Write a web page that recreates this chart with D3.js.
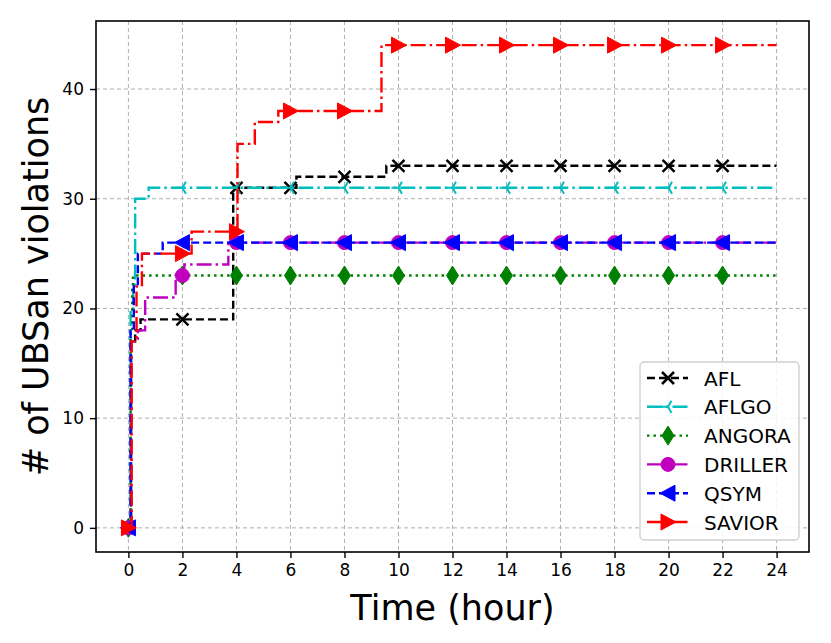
<!DOCTYPE html>
<html>
<head>
<meta charset="utf-8">
<script src="https://cdn.jsdelivr.net/npm/d3@7"></script>
<style>
  body { margin: 0; background: #fff; }
  text { font-family: "DejaVu Sans", sans-serif; fill: #000; }
</style>
</head>
<body>
<div id="chart"></div>
<script>
// step data (hours -> count)
const aflT = [0, 0.1, 0.25, 0.45, 3.88, 6.22, 9.55, 24];
const aflV = [0, 17, 18, 19, 31, 32, 33, 33];
const aflgoT = [0, 0.08, 0.18, 0.25, 0.75, 24];
const aflgoV = [0, 20, 22, 30, 31, 31];
const angoraT = [0, 0.08, 0.14, 0.17, 24];
const angoraV = [0, 18, 22, 23, 23];
const drillerT = [0, 0.1, 0.35, 0.62, 1.75, 2.07, 3.7, 24];
const drillerV = [0, 17, 18, 21, 23, 24, 26, 26];
const qsymT = [0, 0.08, 0.2, 0.35, 1.27, 24];
const qsymV = [0, 18, 22, 25, 26, 26];
const saviorT = [0, 0.12, 0.3, 0.5, 2.34, 4.04, 4.68, 5.55, 9.37, 24];
const saviorV = [0, 17, 22, 25, 27, 35, 37, 38, 44, 44];

const markerTimes = [0, 2, 4, 6, 8, 10, 12, 14, 16, 18, 20, 22];
const xTicks = [0, 2, 4, 6, 8, 10, 12, 14, 16, 18, 20, 22, 24];
const yTicks = [0, 10, 20, 30, 40];

const series = [
  {name: 'AFL', t: aflT, v: aflV, color: '#000000', dash: '8,4', marker: 'x'},
  {name: 'AFLGO', t: aflgoT, v: aflgoV, color: '#00bfbf', dash: '15,4,2.5,4', marker: 'tri'},
  {name: 'ANGORA', t: angoraT, v: angoraV, color: '#008000', dash: '2.5,4', marker: 'diamond'},
  {name: 'DRILLER', t: drillerT, v: drillerV, color: '#bf00bf', dash: '15,4,2.5,4', marker: 'circle'},
  {name: 'QSYM', t: qsymT, v: qsymV, color: '#0000ff', dash: '8,4', marker: 'left'},
  {name: 'SAVIOR', t: saviorT, v: saviorV, color: '#ff0000', dash: '15,4,2.5,4', marker: 'right'}
];

const width = 831, height = 643;
const m = {left: 96, top: 21, right: 22, bottom: 91};

const svg = d3.select('#chart').append('svg')
  .attr('width', width)
  .attr('height', height);

const x = d3.scaleLinear().domain([-1.2, 25.2]).range([m.left, width - m.right]);
const y = d3.scaleLinear().domain([-2.2, 46.2]).range([height - m.bottom, m.top]);

// grid
const grid = svg.append('g');
grid.selectAll('line.gx').data(xTicks).enter().append('line')
  .attr('x1', d => x(d)).attr('x2', d => x(d))
  .attr('y1', m.top).attr('y2', height - m.bottom)
  .attr('stroke', '#b0b0b0').attr('stroke-width', 1).attr('stroke-dasharray', '4,3');
grid.selectAll('line.gy').data(yTicks).enter().append('line')
  .attr('y1', d => y(d)).attr('y2', d => y(d))
  .attr('x1', m.left).attr('x2', width - m.right)
  .attr('stroke', '#b0b0b0').attr('stroke-width', 1).attr('stroke-dasharray', '4,3');

// axes
const xAxis = svg.append('g')
  .attr('transform', `translate(0,${height - m.bottom})`)
  .call(d3.axisBottom(x).tickValues(xTicks).tickSizeOuter(0).tickSize(6).tickPadding(6));
const yAxis = svg.append('g')
  .attr('transform', `translate(${m.left},0)`)
  .call(d3.axisLeft(y).tickValues(yTicks).tickSizeOuter(0).tickSize(6).tickPadding(6));
[xAxis, yAxis].forEach(a => {
  a.select('.domain').remove();
  a.selectAll('.tick line').attr('stroke', '#000').attr('stroke-width', 1.4);
  a.selectAll('.tick text').style('font-size', '17px').style('font-family', 'DejaVu Sans');
});

function valueAt(s, t) {
  let v = s.v[0];
  s.t.forEach((tt, i) => { if (tt <= t) v = s.v[i]; });
  return v;
}

function drawMarker(g, type, color, cx, cy) {
  if (type === 'x') {
    g.append('path').attr('d', `M${cx-6},${cy-6}L${cx+6},${cy+6}M${cx-6},${cy+6}L${cx+6},${cy-6}`)
      .attr('stroke', color).attr('stroke-width', 2.5).attr('fill', 'none');
  } else if (type === 'tri') {
    const r = 7;
    g.append('path').attr('d', `M${cx},${cy}L${cx-r},${cy}M${cx},${cy}L${cx+r*0.5},${cy-r*0.87}M${cx},${cy}L${cx+r*0.5},${cy+r*0.87}`)
      .attr('stroke', color).attr('stroke-width', 2).attr('fill', 'none');
  } else if (type === 'diamond') {
    g.append('path').attr('d', `M${cx},${cy-9.5}L${cx+6},${cy}L${cx},${cy+9.5}L${cx-6},${cy}Z`)
      .attr('fill', color).attr('stroke', color).attr('stroke-width', 1);
  } else if (type === 'circle') {
    g.append('circle').attr('cx', cx).attr('cy', cy).attr('r', 7)
      .attr('fill', color).attr('stroke', color).attr('stroke-width', 1);
  } else if (type === 'left') {
    g.append('path').attr('d', `M${cx-8},${cy}L${cx+7},${cy-8}L${cx+7},${cy+8}Z`)
      .attr('fill', color).attr('stroke', color).attr('stroke-width', 1);
  } else if (type === 'right') {
    g.append('path').attr('d', `M${cx+8},${cy}L${cx-7},${cy-8}L${cx-7},${cy+8}Z`)
      .attr('fill', color).attr('stroke', color).attr('stroke-width', 1);
  }
}

const line = d3.line()
  .x(d => x(d[0]))
  .y(d => y(d[1]))
  .curve(d3.curveStepAfter);

const plot = svg.append('g');
series.forEach(s => {
  const g = plot.append('g');
  g.append('path')
    .datum(s.t.map((t, i) => [t, s.v[i]]))
    .attr('d', line)
    .attr('fill', 'none')
    .attr('stroke', s.color)
    .attr('stroke-width', 2.4)
    .attr('stroke-dasharray', s.dash);
  markerTimes.forEach(t => drawMarker(g, s.marker, s.color, x(t), y(valueAt(s, t))));
});

// frame
svg.append('rect')
  .attr('x', m.left).attr('y', m.top)
  .attr('width', width - m.right - m.left)
  .attr('height', height - m.bottom - m.top)
  .attr('fill', 'none').attr('stroke', '#000').attr('stroke-width', 1.6);

// axis labels
svg.append('text')
  .attr('x', (m.left + width - m.right) / 2)
  .attr('y', 620)
  .attr('text-anchor', 'middle')
  .style('font-size', '35px')
  .text('Time (hour)');
svg.append('text')
  .attr('transform', `translate(48,${(m.top + height - m.bottom) / 2}) rotate(-90)`)
  .attr('text-anchor', 'middle')
  .style('font-size', '35px')
  .text('# of UBSan violations');

// legend
const lg = svg.append('g').attr('transform', 'translate(640,362)');
lg.append('rect')
  .attr('width', 159).attr('height', 178).attr('rx', 4)
  .attr('fill', '#fff').attr('fill-opacity', 0.85)
  .attr('stroke', '#d0d0d0').attr('stroke-width', 1.4);
series.forEach((s, i) => {
  const cy = 16 + i * 28.8;
  const g = lg.append('g');
  g.append('line')
    .attr('x1', 7).attr('x2', 48).attr('y1', cy).attr('y2', cy)
    .attr('stroke', s.color).attr('stroke-width', 2.4)
    .attr('stroke-dasharray', s.dash);
  drawMarker(g, s.marker, s.color, 28, cy);
  g.append('text')
    .attr('x', 64).attr('y', cy + 7.5)
    .style('font-size', '20px')
    .text(s.name);
});
</script>
</body>
</html>
